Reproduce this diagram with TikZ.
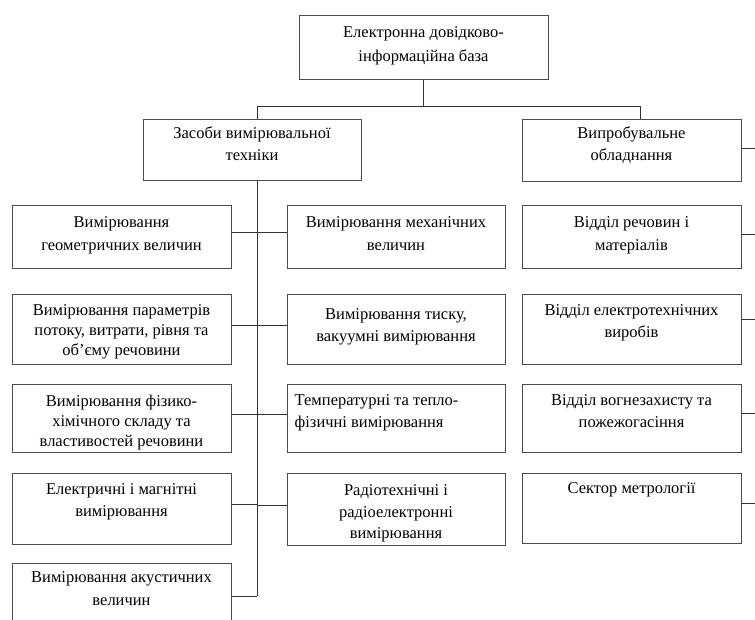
\documentclass[tikz,border=0pt]{standalone}
\usepackage{fontspec}
\setmainfont{Liberation Serif}
\begin{document}
\begin{tikzpicture}[x=1pt,y=-1pt,
  box/.style={draw=black!70,line width=1pt,rectangle,inner sep=0pt,minimum width=219pt},
  lbl/.style={anchor=north,align=center,inner sep=0pt,yshift=-11pt,font=\fontsize{16.5}{21.5}\selectfont,text=black},
  lbll/.style={anchor=north west,align=left,inner sep=0pt,yshift=-11pt,xshift=8pt,font=\fontsize{16.5}{21.5}\selectfont,text=black},
  conn/.style={draw=black!80,line width=1pt}]
\useasboundingbox (0,0) rectangle (755,619);
\clip (0,0) rectangle (755,619);
\fill[white] (0,0) rectangle (755,619);
\coordinate (hb) at (0,106);
\coordinate (bus) at (257,0);
\coordinate (vx) at (640,0);
\coordinate (edge) at (755,0);
% top
\node[box,minimum width=249pt,minimum height=64pt,label={[lbl,yshift=-1pt,font=\fontsize{16.5}{24}\selectfont]north:Електронна довідково-\\інформаційна база}] (T) at (423.5,47) {};
\node[box,minimum width=218pt,minimum height=61pt,label={[lbl,yshift=3pt]north:Засоби вимірювальної\\техніки}] (Z) at (252,149.5) {};
\node[box,minimum height=62pt,label={[lbl,yshift=3pt]north:Випробувальне\\обладнання}] (V) at (631.5,150) {};
% left column
\node[box,minimum height=63pt,label={[lbl,yshift=-1pt,font=\fontsize{16.5}{23}\selectfont]north:Вимірювання\\геометричних величин}] (L1) at (121.5,236.5) {};
\node[box,minimum height=70pt,label={[lbl,yshift=0pt,font=\fontsize{16.5}{20}\selectfont]north:Вимірювання параметрів\\потоку, витрати, рівня та\\об'єму речовини}] (L2) at (121.5,329) {};
\node[box,minimum height=68pt,label={[lbl,font=\fontsize{16.5}{20}\selectfont]north:Вимірювання фізико-\\хімічного складу та\\властивостей речовини}] (L3) at (121.5,418) {};
\node[box,minimum height=71pt,label={[lbl]north:Електричні і магнітні\\вимірювання}] (L4) at (121.5,508.5) {};
\node[box,minimum height=66pt,label={[lbl,yshift=2pt,font=\fontsize{16.5}{23}\selectfont]north:Вимірювання акустичних\\величин}] (L5) at (121.5,596) {};
% middle column
\node[box,minimum width=218pt,minimum height=63pt,label={[lbl,yshift=-1pt,font=\fontsize{16.5}{23}\selectfont]north:Вимірювання механічних\\величин}] (M1) at (396,236.5) {};
\node[box,minimum width=218pt,minimum height=70pt,label={[lbl,yshift=-4pt]north:Вимірювання тиску,\\вакуумні вимірювання}] (M2) at (396,329) {};
\node[box,minimum width=218pt,minimum height=68pt,label={[lbll]north west:Температурні та тепло-\\фізичні вимірювання}] (M3) at (396,418) {};
\node[box,minimum width=218pt,minimum height=72pt,label={[lbl,yshift=-1pt]north:Радіотехнічні і\\радіоелектронні\\вимірювання}] (M4) at (396,509) {};
% right column
\node[box,minimum height=63pt,label={[lbl,yshift=-1pt,font=\fontsize{16.5}{23}\selectfont]north:Відділ речовин і\\матеріалів}] (R1) at (631.5,236.5) {};
\node[box,minimum height=70pt,label={[lbl,yshift=0pt]north:Відділ електротехнічних\\виробів}] (R2) at (631.5,329) {};
\node[box,minimum height=68pt,label={[lbl]north:Відділ вогнезахисту та\\пожежогасіння}] (R3) at (631.5,418) {};
\node[box,minimum height=70pt,label={[lbl,yshift=1pt]north:Сектор метрології}] (R4) at (631.5,508) {};
% connectors
\draw[conn] (T.south) -- (T.south |- hb);
\draw[conn] (bus |- Z.north) -- (bus |- hb) -- (vx |- hb) -- (vx |- V.north);
\draw[conn] (bus |- Z.south) -- (bus |- L5.east);
\foreach \n in {L1,L2,L3,L4} {
  \draw[conn] ([yshift=4pt]\n.east) -- ([yshift=4pt]\n.east -| bus);
}
\draw[conn] (L5.east) -- (L5.east -| bus);
\foreach \n in {M1,M2,M3,M4} {
  \draw[conn] ([yshift=4pt]\n.west -| bus) -- ([yshift=4pt]\n.west);
}
\draw[conn] ([yshift=2pt]V.east) -- ([yshift=2pt]V.east -| edge);
\foreach \n/\s in {R1/2,R2/10,R3/5,R4/5} {
  \draw[conn] ([yshift=\s pt]\n.east) -- ([yshift=\s pt]\n.east -| edge);
}
\end{tikzpicture}
\end{document}
